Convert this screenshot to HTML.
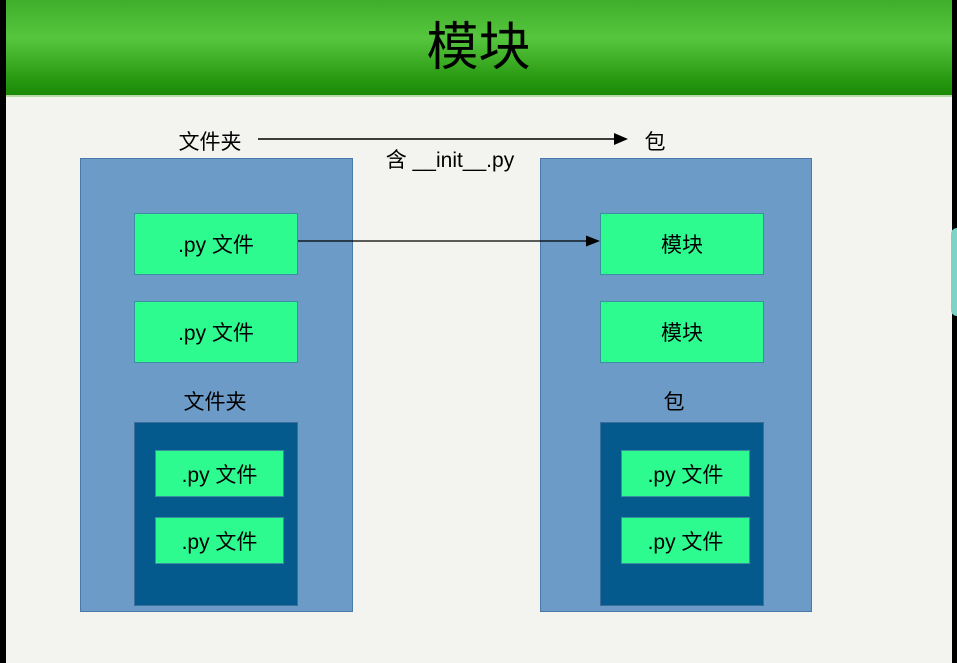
<!DOCTYPE html>
<html><head><meta charset="utf-8"><style>
*{margin:0;padding:0;box-sizing:border-box}
body{width:957px;height:663px;position:relative;overflow:hidden;background:#f3f3ef;font-family:"Liberation Sans","Noto Sans CJK SC",sans-serif;color:#000}
.a{position:absolute}
.hdr{left:6px;top:0;width:946px;height:97px;background:linear-gradient(180deg,#3fae2a 0%,#56c63e 40%,#26980f 85%,#1a8a08 100%);border-bottom:2px solid #b9d9a9}
.title{left:0;width:957px;top:15px;text-align:center;font-size:52px;line-height:66px}
.outer{background:#6d9bc8;border:1px solid #4a78a8}
.g{background:#2dfb90;border:1px solid #3a8fa0;display:flex;align-items:center;justify-content:center;font-size:21px}
.d{background:#045a8c;border:1px solid #3d6e9a}
.lbl{font-size:21px;line-height:24px;text-align:center}
</style></head><body>
<div class="a" style="left:0;top:0;width:6px;height:663px;background:#000"></div>
<div class="a" style="left:952px;top:0;width:5px;height:663px;background:#000"></div>
<div class="a" style="left:951px;top:228px;width:8px;height:88px;background:#7fd3c6;border-radius:6px 0 0 6px"></div>
<div class="a hdr"></div>
<div class="a title">模块</div>

<div class="a lbl" style="left:170px;top:131px;width:80px">文件夹</div>
<div class="a lbl" style="left:640px;top:131px;width:30px">包</div>
<div class="a lbl" style="left:380px;top:149px;width:140px">含 __init__.py</div>

<div class="a outer" style="left:80px;top:158px;width:273px;height:454px"></div>
<div class="a outer" style="left:540px;top:158px;width:272px;height:454px"></div>

<div class="a g" style="left:134px;top:213px;width:164px;height:62px">.py 文件</div>
<div class="a g" style="left:134px;top:301px;width:164px;height:62px">.py 文件</div>
<div class="a g" style="left:600px;top:213px;width:164px;height:62px">模块</div>
<div class="a g" style="left:600px;top:301px;width:164px;height:62px">模块</div>

<div class="a lbl" style="left:175px;top:391px;width:80px">文件夹</div>
<div class="a lbl" style="left:659px;top:391px;width:30px">包</div>

<div class="a d" style="left:134px;top:422px;width:164px;height:184px"></div>
<div class="a d" style="left:600px;top:422px;width:164px;height:184px"></div>
<div class="a g" style="left:155px;top:450px;width:129px;height:47px">.py 文件</div>
<div class="a g" style="left:155px;top:517px;width:129px;height:47px">.py 文件</div>
<div class="a g" style="left:621px;top:450px;width:129px;height:47px">.py 文件</div>
<div class="a g" style="left:621px;top:517px;width:129px;height:47px">.py 文件</div>

<svg class="a" style="left:0;top:0" width="957" height="663">
<line x1="258" y1="139" x2="616" y2="139" stroke="#000" stroke-width="1.5"/>
<polygon points="628,139 614,133 614,145" fill="#000"/>
<line x1="298" y1="241" x2="588" y2="241" stroke="#000" stroke-width="1.2"/>
<polygon points="600,241 586,235.5 586,246.5" fill="#000"/>
</svg>
</body></html>
